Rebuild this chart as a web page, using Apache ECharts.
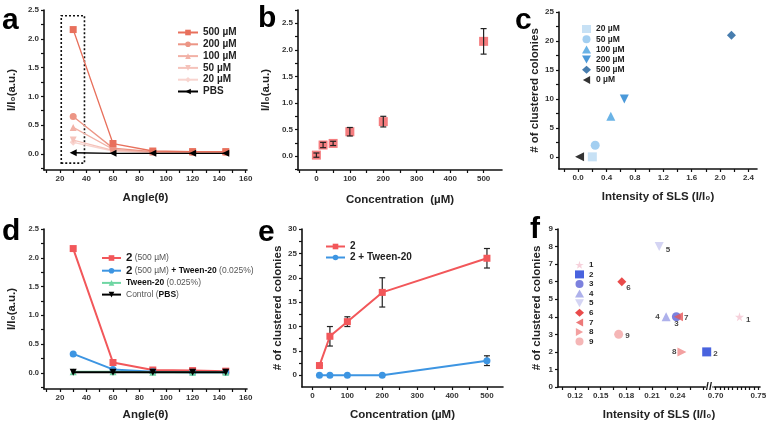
<!DOCTYPE html>
<html>
<head>
<meta charset="utf-8">
<script src="https://cdn.jsdelivr.net/npm/echarts@6/dist/echarts.min.js"></script>
<style>
  html, body { margin: 0; padding: 0; background: #fff; }
  #chart { width: 771px; height: 422px; }
</style>
</head>
<body>
<div id="chart"></div>
<script>
// ---- data ----
// panel a: SLS intensity vs angle for several concentrations
const angles = [30, 60, 90, 120, 145];
const a500 = [2.16, 0.18, 0.05, 0.04, 0.04];
const a200 = [0.65, 0.10, 0.04, 0.03, 0.03];
const a100 = [0.46, 0.08, 0.03, 0.03, 0.03];
const a50 = [0.24, 0.06, 0.03, 0.02, 0.02];
const a20 = [0.20, 0.05, 0.02, 0.02, 0.02];
const aPBS = [0.02, 0.01, 0.01, 0.01, 0.01];
const aNames = ["500 µM", "200 µM", "100 µM", "50 µM", "20 µM", "PBS"];
const boxA = [[21, -0.16], [38.5, 2.4]];

// panel b: intensity at 30 deg vs concentration
const concB = [0, 20, 50, 100, 200, 500];
const intensB = [0.02, 0.21, 0.24, 0.46, 0.65, 2.16];
const errB = [0.04, 0.05, 0.04, 0.08, 0.10, 0.24];

// panel c: clustered colonies vs intensity
const cNames = ["20 µM", "50 µM", "100 µM", "200 µM", "500 µM", "0 µM"];
const cX = [0.20, 0.24, 0.46, 0.65, 2.16, 0.02];
const cY = [0, 2, 7, 10, 21, 0];

// panel d: Tween-20 effect on intensity
const dRed = [2.16, 0.18, 0.05, 0.04, 0.03];
const dBlue = [0.33, 0.06, 0.02, 0.01, 0.01];
const dGreen = [0.02, 0.02, 0.01, 0.01, 0.01];
const dCtrl = [0.01, 0.01, 0.01, 0.01, 0.01];
const dNames = ["2 (500 µM)", "2 (500 µM) + Tween-20 (0.025%)", "Tween-20 (0.025%)", "Control (PBS)"];

// panel e: colonies vs concentration
const concE = [20, 50, 100, 200, 500];
const eRed = [2, 8, 11, 17, 24];
const eRedErr = [0, 2, 1, 3, 2];
const eBlue = [0, 0, 0, 0, 3];
const eBlueErr = [0, 0, 0, 0, 1];

// panel f: colonies vs intensity for compounds 1-9
const fNames = ["1", "2", "3", "4", "5", "6", "7", "8", "9"];
const fX = [0.728, 0.274, 0.2385, 0.2265, 0.2184, 0.1747, 0.241, 0.245, 0.171];
const fY = [4, 2, 4, 4, 8, 6, 4, 2, 3];
const fBreak = [0.28, 0.698];

// tick labels
const ticksAngle = [20, 40, 60, 80, 100, 120, 140, 160];
const ticksAngleMinor = [10, 20, 30, 40, 50, 60, 70, 80, 90, 100, 110, 120, 130, 140, 150, 160];
const ticksI = [0, 0.5, 1.0, 1.5, 2.0, 2.5];
const ticksIMinor = [-0.25, 0, 0.25, 0.5, 0.75, 1.0, 1.25, 1.5, 1.75, 2.0, 2.25, 2.5];
const ticksConc = [0, 100, 200, 300, 400, 500];
const ticksConcMinor = [-50, 0, 50, 100, 150, 200, 250, 300, 350, 400, 450, 500];
const ticksCol25 = [0, 5, 10, 15, 20, 25];
const ticksCol30 = [0, 5, 10, 15, 20, 25, 30];
const ticksColMinor = [0, 2.5, 5, 7.5, 10, 12.5, 15, 17.5, 20, 22.5, 25, 27.5, 30];
const ticksSLS = [0.0, 0.4, 0.8, 1.2, 1.6, 2.0, 2.4];
const ticksSLSMinor = [-0.2, 0, 0.2, 0.4, 0.6, 0.8, 1.0, 1.2, 1.4, 1.6, 1.8, 2.0, 2.2, 2.4];
const ticksF = [0.12, 0.15, 0.18, 0.21, 0.24, 0.70, 0.75];
const ticksFMinor = [0.105, 0.12, 0.135, 0.15, 0.165, 0.18, 0.195, 0.21, 0.225, 0.24, 0.255, 0.27,
  0.70, 0.705, 0.71, 0.715, 0.72, 0.725, 0.73, 0.735, 0.74, 0.745, 0.75];
const ticksF9 = [0, 1, 2, 3, 4, 5, 6, 7, 8, 9];

const FONT = "Liberation Sans, Arial, DejaVu Sans";
const SYM = {
  star: "path://M50,0 L61,35 L98,35 L68,57 L79,91 L50,70 L21,91 L32,57 L2,35 L39,35 Z",
  down: "path://M0,0 L10,0 L5,9 Z",
  left: "path://M9,0 L9,10 L0,5 Z",
  right: "path://M0,0 L0,10 L9,5 Z",
};

function pairs(xs, ys) {
  return xs.map((x, i) => [x, ys[i]]);
}

function makeAxis(gridIndex, min, max, labels, ticks, name, nameGap, extra) {
  return Object.assign({
    type: "value",
    gridIndex: gridIndex,
    min: min,
    max: max,
    name: name,
    nameLocation: "middle",
    nameGap: nameGap,
    nameTextStyle: { fontFamily: FONT, fontSize: 11.5, fontWeight: "bold", color: "#222" },
    axisLine: { show: true, onZero: false, lineStyle: { color: "#111", width: 1.6 } },
    axisTick: { show: true, customValues: ticks, length: 3, lineStyle: { color: "#111", width: 1.2 } },
    axisLabel: { customValues: labels, fontFamily: FONT, fontSize: 8, fontWeight: "bold", color: "#333", margin: 5 },
    splitLine: { show: false },
  }, extra || {});
}

function fixedLabel(labels, digits, size) {
  return { customValues: labels, fontFamily: FONT, fontSize: size || 8, fontWeight: "bold", color: "#333", margin: 5,
    formatter: (v) => v.toFixed(digits) };
}

function errorSeries(xs, ys, es, axisIdx, color, capW) {
  return {
    type: "custom",
    xAxisIndex: axisIdx,
    yAxisIndex: axisIdx,
    silent: true,
    z: 1,
    data: xs.map((x, i) => [x, ys[i] - es[i], ys[i] + es[i]]),
    encode: { x: 0, y: [1, 2] },
    renderItem: function (params, api) {
      const top = api.coord([api.value(0), api.value(2)]);
      const bot = api.coord([api.value(0), api.value(1)]);
      const st = { stroke: color, lineWidth: 1.2 };
      return {
        type: "group",
        children: [
          { type: "line", shape: { x1: top[0], y1: top[1], x2: bot[0], y2: bot[1] }, style: st },
          { type: "line", shape: { x1: top[0] - capW, y1: top[1], x2: top[0] + capW, y2: top[1] }, style: st },
          { type: "line", shape: { x1: bot[0] - capW, y1: bot[1], x2: bot[0] + capW, y2: bot[1] }, style: st },
        ],
      };
    },
  };
}

// ---- series ----
const aColors = ["#e8705c", "#ec9585", "#f2b1a6", "#f5c3bb", "#f8d4cf", "#000000"];
const aSymbols = ["rect", "circle", "triangle", SYM.down, "diamond", SYM.left];
const aVals = [a500, a200, a100, a50, a20, aPBS];
const seriesA = aNames.map((n, i) => ({
  name: "a:" + n,
  type: "line",
  xAxisIndex: 0,
  yAxisIndex: 0,
  data: pairs(angles, aVals[i]),
  symbol: aSymbols[i],
  symbolSize: 7,
  z: 10 - i,
  lineStyle: { color: aColors[i], width: 1.3 },
  itemStyle: { color: aColors[i] },
}));
seriesA[5].z = 12;
seriesA[5].markArea = {
  silent: true,
  itemStyle: { color: "rgba(0,0,0,0)", borderColor: "#111", borderWidth: 1.6, borderType: [2, 2] },
  data: [[{ coord: boxA[0] }, { coord: boxA[1] }]],
};

const seriesB = [
  errorSeries(concB, intensB, errB, 1, "#222", 3),
  {
    name: "b",
    type: "scatter",
    xAxisIndex: 1,
    yAxisIndex: 1,
    data: pairs(concB, intensB),
    symbol: "rect",
    symbolSize: 9,
    z: 0,
    itemStyle: { color: "#f25c5f" },
  },
];

const cColors = ["#b9d9f2", "#8cc3ee", "#45a0e0", "#1e80d0", "#195c9a", "#000000"];
const cSymbols = ["rect", "circle", "triangle", SYM.down, "diamond", SYM.left];
const seriesC = cNames.map((n, i) => ({
  name: "c:" + n,
  type: "scatter",
  xAxisIndex: 2,
  yAxisIndex: 2,
  data: [[cX[i], cY[i]]],
  symbol: cSymbols[i],
  symbolSize: 9,
  itemStyle: { color: cColors[i] },
}));

const dColors = ["#f2575a", "#3d95e2", "#6fd6a3", "#000000"];
const dSymbols = ["rect", "circle", "triangle", SYM.down];
const dVals = [dRed, dBlue, dGreen, dCtrl];
const seriesD = dNames.map((n, i) => ({
  name: n,
  type: "line",
  xAxisIndex: 3,
  yAxisIndex: 3,
  data: pairs(angles, dVals[i]),
  symbol: dSymbols[i],
  symbolSize: 7,
  z: 5 + i,
  lineStyle: { color: dColors[i], width: 2 },
  itemStyle: { color: dColors[i] },
}));

const seriesE = [
  errorSeries(concE, eRed, eRedErr, 4, "#222", 3),
  errorSeries(concE, eBlue, eBlueErr, 4, "#222", 3),
  {
    name: "2",
    type: "line",
    xAxisIndex: 4,
    yAxisIndex: 4,
    data: pairs(concE, eRed),
    symbol: "rect",
    symbolSize: 7,
    lineStyle: { color: "#f2575a", width: 2 },
    itemStyle: { color: "#f2575a" },
  },
  {
    name: "2 + Tween-20",
    type: "line",
    xAxisIndex: 4,
    yAxisIndex: 4,
    data: pairs(concE, eBlue),
    symbol: "circle",
    symbolSize: 7,
    lineStyle: { color: "#3d95e2", width: 2 },
    itemStyle: { color: "#3d95e2" },
  },
];

const fColors = ["#f4c6d2", "#1c3cd6", "#5b62d6", "#9a9ee6", "#c9c9f0", "#e41e1e", "#e85858", "#f08888", "#f2a4a4"];
const fSymbols = [SYM.star, "rect", "circle", "triangle", SYM.down, "diamond", SYM.left, SYM.right, "circle"];
const fLabelPos = ["right", "right", "bottom", "left", "right", "right", "right", "left", "right"];
const fLabelOff = [[0, 3], [0, 2], [0, -3], [0, 0], [0, 3], [-2, 6], [-1, 1], [1, 0], [0, 1]];
const seriesF = fNames.map((n, i) => ({
  name: "f:" + n,
  type: "scatter",
  xAxisIndex: 5,
  yAxisIndex: 5,
  data: [[fX[i], fY[i]]],
  symbol: fSymbols[i],
  symbolSize: 9,
  itemStyle: { color: fColors[i] },
  label: {
    show: true,
    formatter: n,
    position: fLabelPos[i],
    offset: fLabelOff[i],
    distance: 2,
    fontFamily: FONT,
    fontSize: 8,
    fontWeight: "bold",
    color: "#111",
  },
}));

// ---- legends ----
const legText = { fontFamily: FONT, fontWeight: "bold", color: "#222" };
const stripPrefix = (name) => name.slice(2);
const legends = [
  {
    data: aNames.map((n) => "a:" + n),
    formatter: stripPrefix,
    orient: "vertical", left: 172, top: 22,
    itemWidth: 20, itemHeight: 7, itemGap: 0.8,
    textStyle: Object.assign({ fontSize: 10, lineHeight: 11 }, legText),
  },
  {
    data: cNames.map((n) => "c:" + n),
    formatter: stripPrefix,
    orient: "vertical", left: 577, top: 19,
    itemWidth: 9, itemHeight: 8, itemGap: 0.2,
    textStyle: Object.assign({ fontSize: 8.5, lineHeight: 10 }, legText),
  },
  {
    data: dNames,
    orient: "vertical", left: 96, top: 247,
    itemWidth: 19, itemHeight: 7, itemGap: 0.7,
    formatter: function (name) {
      if (name === dNames[0]) return "{big|2}{g| (500 µM)}";
      if (name === dNames[1]) return "{big|2}{g| (500 µM) }{b|+ Tween-20}{g| (0.025%)}";
      if (name === dNames[2]) return "{b|Tween-20}{g| (0.025%)}";
      return "{g|Control (}{b|PBS}{g|)}";
    },
    textStyle: {
      fontFamily: FONT, fontSize: 9, lineHeight: 11,
      rich: {
        big: { fontFamily: FONT, fontSize: 11.5, fontWeight: "bold", color: "#111" },
        g: { fontFamily: FONT, fontSize: 8.5, color: "#555" },
        b: { fontFamily: FONT, fontSize: 8.5, fontWeight: "bold", color: "#111" },
      },
    },
  },
  {
    data: ["2", "2 + Tween-20"],
    orient: "vertical", left: 320, top: 236,
    itemWidth: 19, itemHeight: 7, itemGap: 0,
    textStyle: Object.assign({ fontSize: 10, lineHeight: 11 }, legText),
  },
  {
    data: fNames.map((n) => "f:" + n),
    formatter: stripPrefix,
    orient: "vertical", left: 570, top: 255,
    itemWidth: 9, itemHeight: 8, itemGap: 0,
    textStyle: Object.assign({ fontSize: 8, lineHeight: 9.6 }, legText),
  },
];

const panelLetters = [["a", 2, 6], ["b", 258, 4], ["c", 515, 6], ["d", 2, 217], ["e", 258, 218], ["f", 530, 215]];

const option = {
  animation: false,
  backgroundColor: "#fff",
  grid: [
    { left: 44, top: 10, width: 203, height: 160 },
    { left: 298, top: 10, width: 204, height: 160 },
    { left: 559, top: 12, width: 198, height: 157 },
    { left: 44, top: 229, width: 203, height: 161 },
    { left: 302, top: 229, width: 201, height: 161 },
    { left: 558, top: 229, width: 202, height: 159 },
  ],
  xAxis: [
    makeAxis(0, 8, 161, ticksAngle, ticksAngleMinor, "Angle(θ)", 22),
    makeAxis(1, -55, 555, ticksConc, ticksConcMinor, "Concentration  (µM)", 24),
    makeAxis(2, -0.27, 2.52, ticksSLS, ticksSLSMinor, "Intensity of SLS (I/I₀)", 22,
      { axisLabel: fixedLabel(ticksSLS, 1) }),
    makeAxis(3, 8, 161, ticksAngle, ticksAngleMinor, "Angle(θ)", 20),
    makeAxis(4, -30, 546, ticksConc, ticksConcMinor.slice(1), "Concentration (µM)", 22),
    makeAxis(5, 0.1, 0.752, ticksF, ticksFMinor, "Intensity of SLS (I/I₀)", 22, {
      breaks: [{ start: fBreak[0], end: fBreak[1], gap: "1%" }],
      breakArea: { show: false },
      axisLabel: fixedLabel(ticksF, 2),
    }),
  ],
  yAxis: [
    makeAxis(0, -0.28, 2.5, ticksI, ticksIMinor, "I/I₀(a.u.)", 26, { axisLabel: fixedLabel(ticksI, 1) }),
    makeAxis(1, -0.26, 2.75, ticksI, ticksIMinor.concat([2.75]), "I/I₀(a.u.)", 26, { axisLabel: fixedLabel(ticksI, 1) }),
    makeAxis(2, -2.1, 25, ticksCol25, ticksColMinor.slice(0, 11), "# of clustered colonies", 18),
    makeAxis(3, -0.28, 2.5, ticksI, ticksIMinor, "I/I₀(a.u.)", 26, { axisLabel: fixedLabel(ticksI, 1, 7.5) }),
    makeAxis(4, -2.4, 30, ticksCol30, ticksColMinor, "# of clustered colonies", 18),
    makeAxis(5, 0, 9, ticksF9, ticksF9, "# of clustered colonies", 15),
  ],
  legend: legends,
  series: [].concat(seriesA, seriesB, seriesC, seriesD, seriesE, seriesF),
  graphic: panelLetters.map((p) => ({
    type: "text",
    id: "letter-" + p[0],
    left: p[1],
    top: p[2],
    style: { text: p[0], fontFamily: FONT, fontSize: 30, fontWeight: "bold", fill: "#000" },
  })),
};

const chart = echarts.init(document.getElementById("chart"), null, { renderer: "canvas" });
chart.setOption(option);

// break mark on panel f x axis
const bx = chart.convertToPixel({ xAxisIndex: 5 }, fBreak[1]);
const by = chart.convertToPixel({ yAxisIndex: 5 }, 0);
if (isFinite(bx) && isFinite(by)) {
  chart.setOption({
    graphic: [{
      type: "text",
      id: "break-f",
      x: bx - 8,
      y: by - 6,
      z: 100,
      style: { text: "//", fontFamily: FONT, fontSize: 11, fontWeight: "bold", fill: "#111",
        backgroundColor: "#fff" },
    }],
  });
}
</script>
</body>
</html>
